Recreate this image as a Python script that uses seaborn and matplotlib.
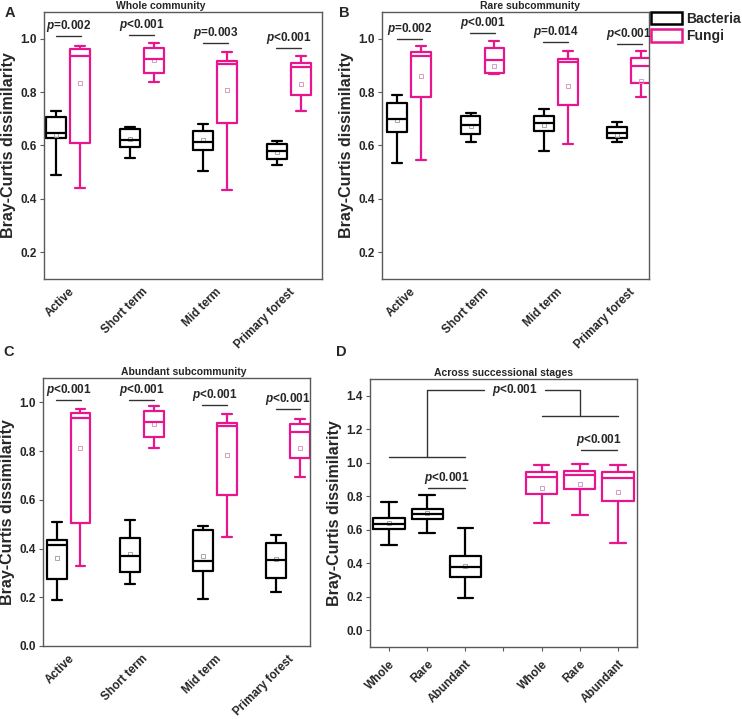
import pandas as pd
import matplotlib.pyplot as plt
from matplotlib.patches import Patch
import seaborn as sns

stages = ["Active", "Short term", "Mid term", "Primary forest"]
kingdoms = ["Bacteria", "Fungi"]
colors = {"Bacteria": "#000000", "Fungi": "#E8168C"}
mean_colors = {"Bacteria": "#9a9a9a", "Fungi": "#d48ab8"}

# box summaries: (min, q1, median, q3, max)
whole_bac = [[0.490, 0.627, 0.648, 0.705, 0.728], [0.553, 0.594, 0.621, 0.661, 0.671],
             [0.505, 0.585, 0.614, 0.654, 0.681], [0.528, 0.550, 0.579, 0.604, 0.616]]
whole_fun = [[0.440, 0.611, 0.935, 0.960, 0.973], [0.836, 0.873, 0.925, 0.965, 0.985],
             [0.434, 0.684, 0.906, 0.915, 0.949], [0.731, 0.790, 0.894, 0.910, 0.934]]
whole_bac_mean = [0.640, 0.625, 0.620, 0.575]
whole_fun_mean = [0.835, 0.920, 0.809, 0.831]
whole_p = ["$p$=0.002", "$p$<0.001", "$p$=0.003", "$p$<0.001"]

rare_bac = [[0.535, 0.649, 0.701, 0.758, 0.788], [0.613, 0.643, 0.677, 0.712, 0.720],
            [0.579, 0.656, 0.686, 0.712, 0.738], [0.613, 0.628, 0.646, 0.671, 0.687]]
rare_fun = [[0.544, 0.780, 0.934, 0.950, 0.974], [0.869, 0.872, 0.920, 0.965, 0.990],
            [0.606, 0.750, 0.913, 0.925, 0.953], [0.782, 0.833, 0.899, 0.929, 0.953]]
rare_bac_mean = [0.695, 0.672, 0.675, 0.640]
rare_fun_mean = [0.862, 0.897, 0.824, 0.843]
rare_p = ["$p$=0.002", "$p$<0.001", "$p$=0.014", "$p$<0.001"]

abund_bac = [[0.189, 0.274, 0.414, 0.436, 0.511], [0.256, 0.305, 0.371, 0.444, 0.516],
             [0.193, 0.308, 0.347, 0.477, 0.493], [0.223, 0.281, 0.355, 0.423, 0.456]]
abund_fun = [[0.330, 0.503, 0.934, 0.958, 0.974], [0.812, 0.858, 0.919, 0.966, 0.985],
             [0.448, 0.618, 0.904, 0.916, 0.952], [0.693, 0.771, 0.878, 0.911, 0.933]]
abund_bac_mean = [0.360, 0.377, 0.370, 0.358]
abund_fun_mean = [0.811, 0.910, 0.785, 0.811]
abund_p = ["$p$<0.001", "$p$<0.001", "$p$<0.001", "$p$<0.001"]

# panel D
sub_labels = ["Whole", "Rare", "Abundant"]
across_bac = [[0.508, 0.602, 0.637, 0.671, 0.763], [0.582, 0.665, 0.695, 0.723, 0.805],
              [0.193, 0.317, 0.380, 0.442, 0.608]]
across_fun = [[0.643, 0.811, 0.916, 0.942, 0.988], [0.687, 0.841, 0.926, 0.952, 0.994],
              [0.518, 0.773, 0.906, 0.946, 0.988]]
across_bac_mean = [0.640, 0.700, 0.386]
across_fun_mean = [0.849, 0.873, 0.827]

sns.set_theme(style="ticks")
plt.rcParams["font.family"] = ["Liberation Sans", "DejaVu Sans"]
plt.rcParams["font.weight"] = "bold"
plt.rcParams["axes.labelweight"] = "bold"
plt.rcParams["axes.titleweight"] = "bold"
plt.rcParams["mathtext.fontset"] = "custom"
plt.rcParams["mathtext.it"] = "Liberation Sans:italic:bold"
plt.rcParams["mathtext.rm"] = "Liberation Sans:bold"

spine_col = "#5a5a5a"


def style_axes(ax):
    for s in ax.spines.values():
        s.set_color(spine_col)
        s.set_linewidth(1.0)
    ax.tick_params(axis="both", direction="out", length=3, width=0.8,
                   color=spine_col, labelsize=8.5, pad=2)
    ax.set_xlabel("")
    ax.set_ylabel("Bray-Curtis dissimilarity", fontsize=11.5, labelpad=3)


def stage_panel(ax, bac, fun, bac_mean, fun_mean, ptexts, p_y, title, title_x):
    rows = []
    for st, b, f in zip(stages, bac, fun):
        rows += [(st, "Bacteria", v) for v in b]
        rows += [(st, "Fungi", v) for v in f]
    df = pd.DataFrame(rows, columns=["stage", "kingdom", "value"])
    sns.boxplot(data=df, x="stage", y="value", hue="kingdom", order=stages,
                hue_order=kingdoms, palette=colors, fill=False, width=0.65,
                gap=0.17, whis=(0, 100), linewidth=1.6, legend=False, ax=ax)
    mdf = pd.DataFrame({"stage": stages * 2,
                        "kingdom": ["Bacteria"] * 4 + ["Fungi"] * 4,
                        "mean": bac_mean + fun_mean})
    sns.pointplot(data=mdf, x="stage", y="mean", hue="kingdom", order=stages,
                  hue_order=kingdoms, palette=mean_colors, dodge=0.325,
                  linestyle="none", markers="s", markersize=2.5,
                  markerfacecolor="none", markeredgewidth=0.6,
                  errorbar=None, legend=False, ax=ax)
    for i, (t, y) in enumerate(zip(ptexts, p_y)):
        ax.plot([i - 0.17, i + 0.17], [y, y], color="#333333", lw=1.0)
        ax.text(i, y + 0.008, t, ha="center", va="bottom", fontsize=8.5)
    style_axes(ax)
    ax.tick_params(axis="x", length=0, labelsize=8.5, pad=5)
    for lab in ax.get_xticklabels():
        lab.set_rotation(45)
        lab.set_ha("right")
        lab.set_rotation_mode("anchor")
    ax.set_title(title, fontsize=7.5, x=title_x, pad=2)


fig = plt.figure(figsize=(7.42, 7.19), dpi=100)
W, H = 742, 719


def add_ax(x0, y0, x1, y1):
    return fig.add_axes([x0 / W, 1 - y1 / H, (x1 - x0) / W, (y1 - y0) / H])


axA = add_ax(44, 12, 322, 279)
axB = add_ax(382, 12, 649, 279)
axC = add_ax(43, 378, 310, 646)
axD = add_ax(370, 379, 637, 647)

stage_panel(axA, whole_bac, whole_fun, whole_bac_mean, whole_fun_mean, whole_p,
            [1.009, 1.012, 0.984, 0.966], "Whole community", 0.42)
axA.set_ylim(0.1, 1.1)
axA.set_yticks([0.2, 0.4, 0.6, 0.8, 1.0])
axA.set_xlim(-0.33, 3.45)

stage_panel(axB, rare_bac, rare_fun, rare_bac_mean, rare_fun_mean, rare_p,
            [1.0, 1.02, 0.989, 0.98], "Rare subcommunity", 0.555)
axB.set_ylim(0.1, 1.1)
axB.set_yticks([0.2, 0.4, 0.6, 0.8, 1.0])
axB.set_xlim(-0.37, 3.27)

stage_panel(axC, abund_bac, abund_fun, abund_bac_mean, abund_fun_mean, abund_p,
            [1.011, 1.011, 0.99, 0.974], "Abundant subcommunity", 0.528)
axC.set_ylim(0.0, 1.1)
axC.set_yticks([0.0, 0.2, 0.4, 0.6, 0.8, 1.0])
axC.set_xlim(-0.35, 3.3)

# panel D
keys = ["bW", "bR", "bA", "gap", "fW", "fR", "fA"]
rows = []
for k, vals in zip(keys[:3], across_bac):
    rows += [(k, "Bacteria", v) for v in vals]
for k, vals in zip(keys[4:], across_fun):
    rows += [(k, "Fungi", v) for v in vals]
ddf = pd.DataFrame(rows, columns=["group", "kingdom", "value"])
sns.boxplot(data=ddf, x="group", y="value", hue="kingdom", order=keys,
            hue_order=kingdoms, palette=colors, fill=False, dodge=False,
            width=0.82, whis=(0, 100), linewidth=1.6, legend=False, ax=axD)
mddf = pd.DataFrame({"group": keys[:3] + keys[4:],
                     "kingdom": ["Bacteria"] * 3 + ["Fungi"] * 3,
                     "mean": across_bac_mean + across_fun_mean})
sns.pointplot(data=mddf, x="group", y="mean", hue="kingdom", order=keys,
              hue_order=kingdoms, palette=mean_colors, dodge=False,
              linestyle="none", markers="s", markersize=2.5,
              markerfacecolor="none", markeredgewidth=0.6,
              errorbar=None, legend=False, ax=axD)
style_axes(axD)
axD.set_xticks(range(7))
axD.set_xticklabels(sub_labels + [""] + sub_labels, rotation=45, ha="right",
                    rotation_mode="anchor")
axD.tick_params(axis="x", labelsize=8.5, pad=5)
axD.set_ylim(-0.1, 1.5)
axD.set_yticks([0.0, 0.2, 0.4, 0.6, 0.8, 1.0, 1.2, 1.4])
axD.set_xlim(-0.5, 6.5)
axD.set_title("Across successional stages", fontsize=7.5, pad=2)

lc = "#333333"
axD.plot([0, 2], [1.034, 1.034], color=lc, lw=1.0)
axD.plot([1, 1, 2.5], [1.034, 1.432, 1.432], color=lc, lw=1.0)
axD.text(3.3, 1.432, "$p$<0.001", ha="center", va="center", fontsize=8.5)
axD.plot([4.1, 5, 5], [1.432, 1.432, 1.277], color=lc, lw=1.0)
axD.plot([4, 6], [1.277, 1.277], color=lc, lw=1.0)
axD.plot([1.02, 1.98], [0.849, 0.849], color=lc, lw=1.0)
axD.text(1.5, 0.862, "$p$<0.001", ha="center", va="bottom", fontsize=8.5)
axD.plot([5.02, 5.98], [1.074, 1.074], color=lc, lw=1.0)
axD.text(5.5, 1.087, "$p$<0.001", ha="center", va="bottom", fontsize=8.5)

# panel letters
for letter, (px, py) in zip("ABCD", [(10, 13), (344, 13), (9, 352), (341, 352)]):
    fig.text(px / W, 1 - py / H, letter, fontsize=10.5, ha="center", va="center")

handles = [Patch(facecolor="none", edgecolor=colors[k], linewidth=1.8, label=k)
           for k in kingdoms]
fig.legend(handles=handles, loc="upper left", bbox_to_anchor=(651 / W, 1 - 12 / H),
           frameon=False, handlelength=2.2, handleheight=1.0, handletextpad=0.35,
           labelspacing=0.25, borderaxespad=0, borderpad=0,
           prop={"size": 10, "weight": "bold"})

fig.savefig("out.png", dpi=100)
